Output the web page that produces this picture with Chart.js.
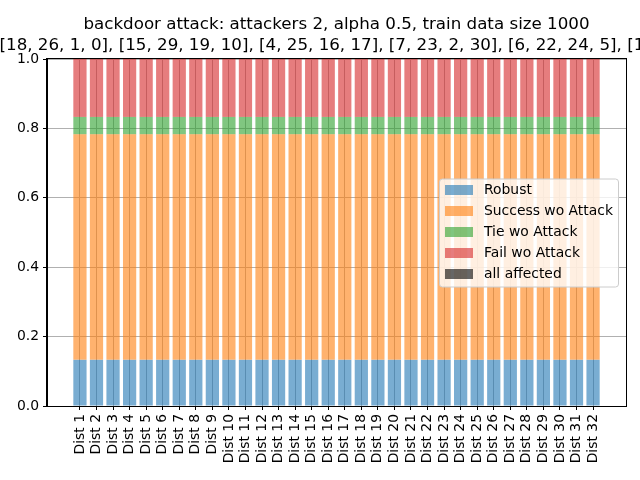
<!DOCTYPE html>
<html>
<head>
<meta charset="utf-8">
<script src="https://cdn.jsdelivr.net/npm/chart.js@4/dist/chart.umd.min.js"></script>
<style>
html,body{margin:0;padding:0;background:#fff;}
canvas{display:block;}
</style>
</head>
<body>
<canvas id="c" width="640" height="480"></canvas>
<script>
const categories = ["Dist 1","Dist 2","Dist 3","Dist 4","Dist 5","Dist 6","Dist 7","Dist 8","Dist 9","Dist 10","Dist 11","Dist 12","Dist 13","Dist 14","Dist 15","Dist 16","Dist 17","Dist 18","Dist 19","Dist 20","Dist 21","Dist 22","Dist 23","Dist 24","Dist 25","Dist 26","Dist 27","Dist 28","Dist 29","Dist 30","Dist 31","Dist 32"];
const robust = [0.133,0.133,0.133,0.133,0.133,0.133,0.133,0.133,0.133,0.133,0.133,0.133,0.133,0.133,0.133,0.133,0.133,0.133,0.133,0.133,0.133,0.133,0.133,0.133,0.133,0.133,0.133,0.133,0.133,0.133,0.133,0.133];
const successWoAttack = [0.65,0.65,0.65,0.65,0.65,0.65,0.65,0.65,0.65,0.65,0.65,0.65,0.65,0.65,0.65,0.65,0.65,0.65,0.65,0.65,0.65,0.65,0.65,0.65,0.65,0.65,0.65,0.65,0.65,0.65,0.65,0.65];
const tieWoAttack = [0.05,0.05,0.05,0.05,0.05,0.05,0.05,0.05,0.05,0.05,0.05,0.05,0.05,0.05,0.05,0.05,0.05,0.05,0.05,0.05,0.05,0.05,0.05,0.05,0.05,0.05,0.05,0.05,0.05,0.05,0.05,0.05];
const failWoAttack = [0.167,0.167,0.167,0.167,0.167,0.167,0.167,0.167,0.167,0.167,0.167,0.167,0.167,0.167,0.167,0.167,0.167,0.167,0.167,0.167,0.167,0.167,0.167,0.167,0.167,0.167,0.167,0.167,0.167,0.167,0.167,0.167];
const allAffected = [0,0,0,0,0,0,0,0,0,0,0,0,0,0,0,0,0,0,0,0,0,0,0,0,0,0,0,0,0,0,0,0];
const yTicks = [0, 0.2, 0.4, 0.6, 0.8, 1.0];
const titleLine1 = "backdoor attack: attackers 2, alpha 0.5, train data size 1000";
const titleLine2 = "[18, 26, 1, 0], [15, 29, 19, 10], [4, 25, 16, 17], [7, 23, 2, 30], [6, 22, 24, 5], [11, 12, 13, 14], [20, 21, 27, 28]]";

const seriesNames = ["Robust","Success wo Attack","Tie wo Attack","Fail wo Attack","all affected"];
const seriesValues = [robust, successWoAttack, tieWoAttack, failWoAttack, allAffected];
const seriesColors = ["rgba(31,119,180,0.6)","rgba(255,127,14,0.6)","rgba(44,160,44,0.6)","rgba(214,39,40,0.6)","rgba(0,0,0,0.6)"];

const FONT = "'DejaVu Sans', sans-serif";
Chart.defaults.font.family = FONT;
Chart.defaults.font.size = 13.9;
Chart.defaults.color = '#000';

const decor = {
  id: 'decor',
  afterDraw(chart) {
    const ctx = chart.ctx;
    const a = chart.chartArea;
    ctx.save();
    // frame
    ctx.strokeStyle = '#000';
    ctx.lineWidth = 1;
    ctx.strokeRect(Math.round(a.left) - 0.5, Math.round(a.top) - 0.5, Math.round(a.right - a.left) + 1, Math.round(a.bottom - a.top) + 1);
    // title
    ctx.fillStyle = '#000';
    ctx.font = "16.7px " + FONT;
    ctx.textBaseline = 'alphabetic';
    ctx.textAlign = 'center';
    ctx.fillText(titleLine1, (a.left + a.right) / 2, 29);
    ctx.textAlign = 'left';
    ctx.fillText(titleLine2, -0.5, 49.5);
    // legend
    const w = 179, h = 108;
    const x0 = a.right - 8 - w;
    const y0 = (a.top + a.bottom) / 2 - h / 2 + 0.5;
    ctx.beginPath();
    if (ctx.roundRect) ctx.roundRect(x0 + 0.5, y0, w, h, 3); else ctx.rect(x0 + 0.5, y0, w, h);
    ctx.fillStyle = 'rgba(255,255,255,0.8)';
    ctx.fill();
    ctx.strokeStyle = '#cccccc';
    ctx.stroke();
    ctx.font = "13.9px " + FONT;
    ctx.textAlign = 'left';
    ctx.textBaseline = 'middle';
    chart.data.datasets.forEach((ds, i) => {
      const cy = y0 + 11 + i * 21;
      ctx.fillStyle = ds.backgroundColor;
      ctx.fillRect(x0 + 6, cy - 5, 28, 10);
      ctx.fillStyle = '#000';
      ctx.fillText(ds.label, x0 + 45, cy);
    });
    ctx.restore();
  }
};

new Chart(document.getElementById('c'), {
  type: 'bar',
  data: {
    datasets: seriesNames.map((name, k) => ({
      label: name,
      data: seriesValues[k].map((v, i) => ({ x: i, y: v })),
      backgroundColor: seriesColors[k],
      borderWidth: 0,
      categoryPercentage: 1.0,
      barPercentage: 0.8
    }))
  },
  options: {
    responsive: false,
    animation: false,
    devicePixelRatio: 1,
    layout: { padding: { top: 59, right: 14, left: 0, bottom: 0 } },
    plugins: { legend: { display: false }, title: { display: false }, tooltip: { enabled: false } },
    scales: {
      x: {
        type: 'linear',
        stacked: true,
        offset: false,
        min: -1.99,
        max: 32.99,
        z: 1,
        afterBuildTicks(scale) { scale.ticks = categories.map((_, i) => ({ value: i })); },
        afterFit(scale) { scale.height = 74; },
        ticks: {
          autoSkip: false,
          minRotation: 90,
          maxRotation: 90,
          padding: 4,
          callback: (v) => categories[v]
        },
        grid: { offset: false, color: '#b0b0b0', lineWidth: 1, tickColor: '#000', tickLength: 4, tickWidth: 1 },
        border: { display: true, color: '#000', width: 1 }
      },
      y: {
        stacked: true,
        min: 0,
        max: 1,
        z: 1,
        afterBuildTicks(scale) { scale.ticks = yTicks.map(v => ({ value: v })); },
        afterFit(scale) { scale.width = 47; },
        ticks: { padding: 4, callback: (v) => Number(v).toFixed(1) },
        grid: { color: '#b0b0b0', lineWidth: 1, tickColor: '#000', tickLength: 4, tickWidth: 1 },
        border: { display: true, color: '#000', width: 1 }
      }
    }
  },
  plugins: [decor]
});
</script>
</body>
</html>
